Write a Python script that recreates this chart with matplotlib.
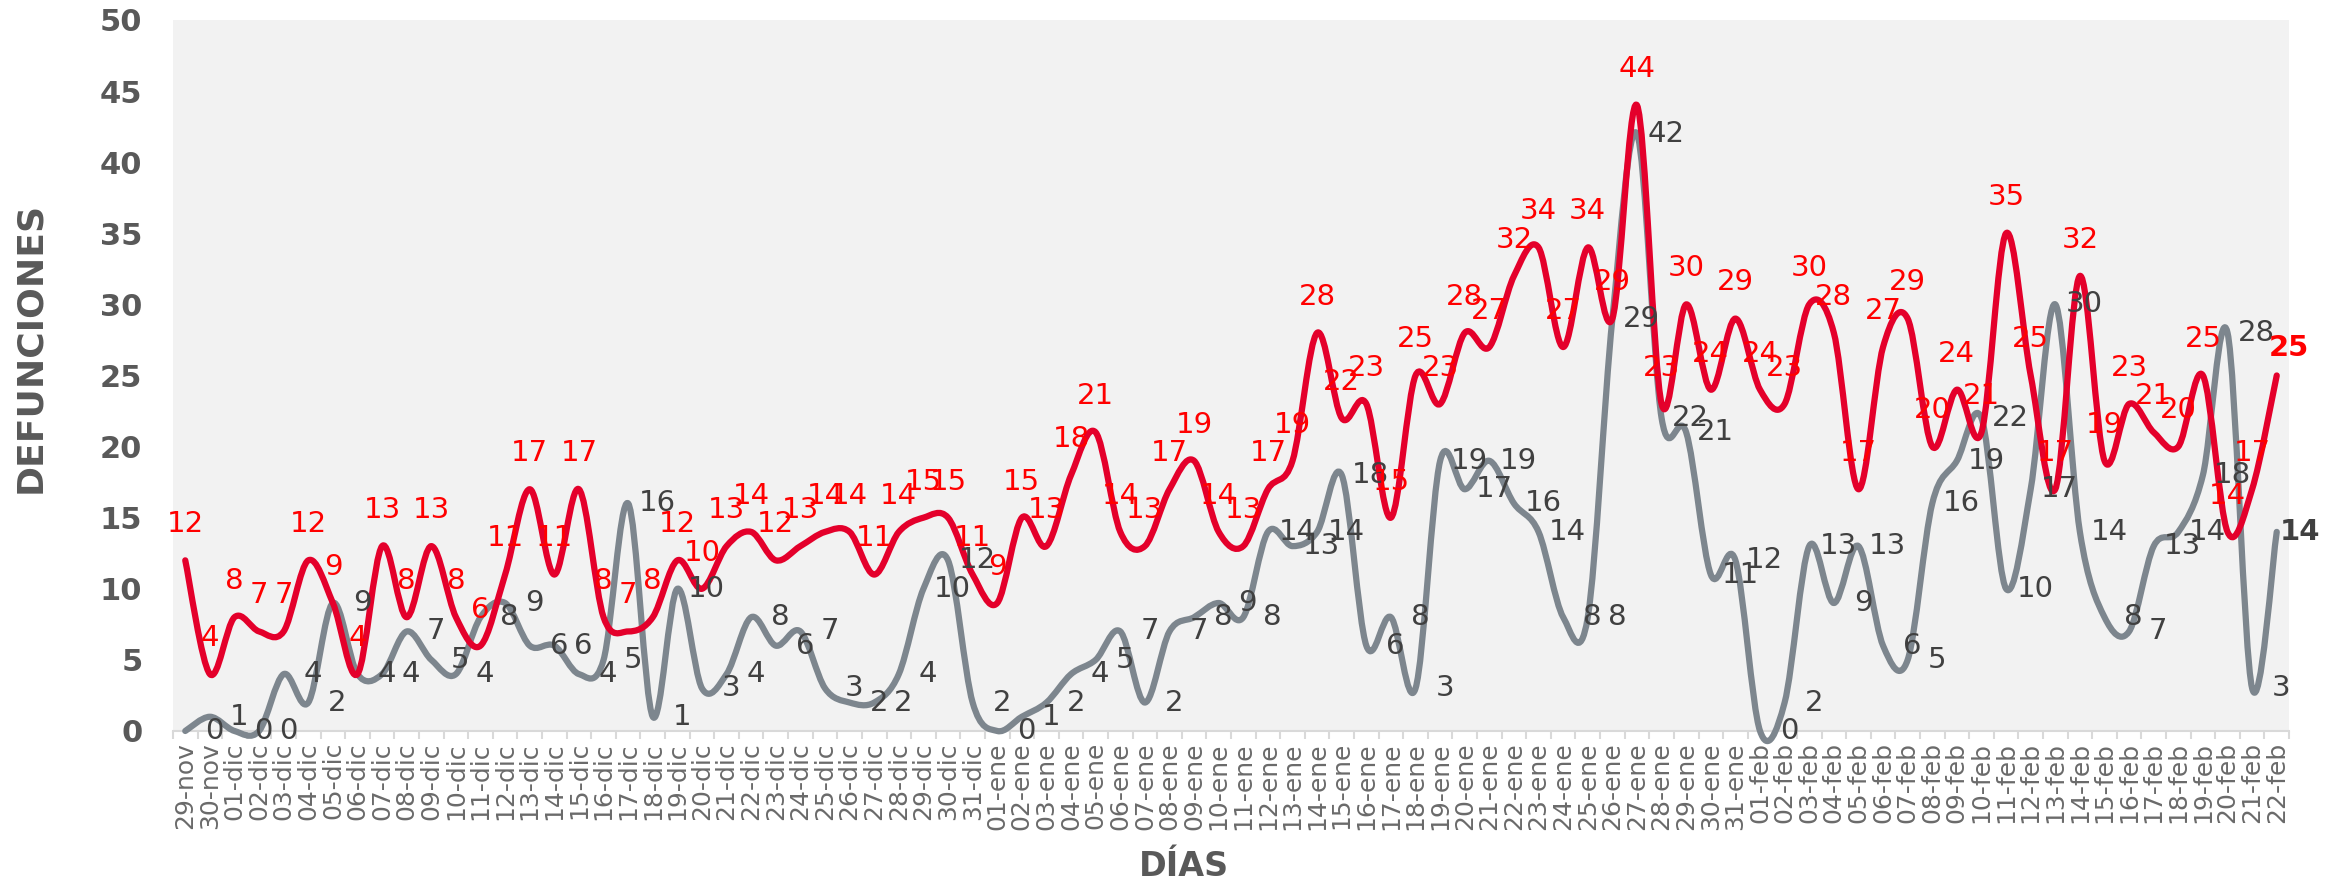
import matplotlib
matplotlib.use('Agg')
import matplotlib.pyplot as plt
from matplotlib.path import Path
from matplotlib.patches import PathPatch
from matplotlib.ticker import MultipleLocator
import numpy as np

# ------ DATA ----------------------------------

meses = [('nov', 29, 30), ('dic', 1, 31), ('ene', 1, 31), ('feb', 1, 22)]
dias = [f"{d:02d}-{m}" for m, a, b in meses for d in range(a, b + 1)]

defunciones_rojo = [12, 4, 8, 7, 7, 12, 9, 4, 13, 8, 13, 8, 6, 11, 17, 11, 17, 8, 7, 8,
                    12, 10, 13, 14, 12, 13, 14, 14, 11, 14, 15, 15, 11, 9, 15, 13, 18, 21, 14, 13,
                    17, 19, 14, 13, 17, 19, 28, 22, 23, 15, 25, 23, 28, 27, 32, 34, 27, 34, 29, 44,
                    23, 30, 24, 29, 24, 23, 30, 28, 17, 27, 29, 20, 24, 21, 35, 25, 17, 32, 19, 23,
                    21, 20, 25, 14, 17, 25]

defunciones_gris = [0, 1, 0, 0, 4, 2, 9, 4, 4, 7, 5, 4, 8, 9, 6, 6, 4, 5, 16, 1,
                    10, 3, 4, 8, 6, 7, 3, 2, 2, 4, 10, 12, 2, 0, 1, 2, 4, 5, 7, 2,
                    7, 8, 9, 8, 14, 13, 14, 18, 6, 8, 3, 19, 17, 19, 16, 14, 8, 8, 29, 42,
                    22, 21, 11, 12, 0, 2, 13, 9, 13, 6, 5, 16, 19, 22, 10, 17, 30, 14, 8, 7,
                    13, 14, 18, 28, 3, 14]

# ------ COLORS --------------------------------

ROJO_LINEA = '#E4002B'
ROJO_TEXTO = '#FF0000'
GRIS_LINEA = '#7D868E'
GRIS_TEXTO = '#404040'
EJE_TEXTO = '#595959'


def smooth_path(x, y):
    """Excel-like smoothed line: cubic bezier segments through every point."""
    n = len(x)
    verts = [(x[0], y[0])]
    codes = [Path.MOVETO]
    for i in range(n - 1):
        xp, yp = (x[i - 1], y[i - 1]) if i > 0 else (x[i], y[i])
        xn, yn = (x[i + 2], y[i + 2]) if i + 2 < n else (x[i + 1], y[i + 1])
        c1 = (x[i] + (x[i + 1] - xp) / 6, y[i] + (y[i + 1] - yp) / 6)
        c2 = (x[i + 1] - (xn - x[i]) / 6, y[i + 1] - (yn - y[i]) / 6)
        verts += [c1, c2, (x[i + 1], y[i + 1])]
        codes += [Path.CURVE4] * 3
    return Path(verts, codes)


def main():
    fig = plt.figure(figsize=(23.31, 8.84), dpi=100)
    ax = fig.add_axes([0.0742, 0.1731, 0.9078, 0.8043])
    ax.set_facecolor('#F2F2F2')

    x = np.arange(len(dias))

    # LINES
    for serie, color in [(defunciones_gris, GRIS_LINEA), (defunciones_rojo, ROJO_LINEA)]:
        patch = PathPatch(smooth_path(x, serie), facecolor='none', edgecolor=color,
                          lw=4.5, capstyle='round', joinstyle='round', clip_on=False, zorder=3)
        ax.add_patch(patch)

    # DATA LABELS
    last = len(dias) - 1
    for i, v in enumerate(defunciones_gris):
        if i == last:
            ax.annotate(str(v), (i, v), xytext=(2, 0), textcoords='offset points',
                        ha='left', va='center', fontsize=21, color=GRIS_TEXTO,
                        fontweight='bold', zorder=5, annotation_clip=False)
        else:
            ax.annotate(str(v), (i, v), xytext=(21, 0), textcoords='offset points',
                        ha='center', va='center', fontsize=21, color=GRIS_TEXTO, zorder=5)
    for i, v in enumerate(defunciones_rojo):
        if i == last:
            ax.annotate(str(v), (i, v), xytext=(9, 20), textcoords='offset points',
                        ha='center', va='center', fontsize=21, color=ROJO_TEXTO,
                        fontweight='bold', zorder=5, annotation_clip=False)
        else:
            ax.annotate(str(v), (i, v), xytext=(0, 26), textcoords='offset points',
                        ha='center', va='center', fontsize=21, color=ROJO_TEXTO, zorder=5)

    # AXES
    ax.set_xlim(-0.5, len(dias) - 0.5)
    ax.set_ylim(0, 50)
    ax.yaxis.set_major_locator(MultipleLocator(5))
    ax.set_xticks(x)
    ax.set_xticklabels(dias, rotation=90, fontsize=18, color='#6A6A6A')
    ax.set_xticks(np.arange(-0.5, len(dias), 1), minor=True)
    ax.tick_params(axis='x', which='major', length=0, pad=8)
    ax.tick_params(axis='x', which='minor', length=6, width=1.5, color='#D9D9D9')
    ax.tick_params(axis='y', length=0, pad=22, labelsize=22, labelcolor=EJE_TEXTO)
    for lab in ax.get_yticklabels():
        lab.set_fontweight('bold')

    for side in ['left', 'right', 'top']:
        ax.spines[side].set_visible(False)
    ax.spines['bottom'].set_color('#D9D9D9')
    ax.spines['bottom'].set_linewidth(1.5)

    # TITLES
    fig.text(30 / 2331, 1 - 347 / 884, 'DEFUNCIONES', rotation=90, ha='center', va='center',
             fontsize=26, fontweight='bold', color=EJE_TEXTO)
    fig.text(1184 / 2331, 1 - 866 / 884, 'DÍAS', ha='center', va='center',
             fontsize=24, fontweight='bold', color=EJE_TEXTO)

    plt.savefig('out.png', dpi=100)


if __name__ == '__main__':
    main()
